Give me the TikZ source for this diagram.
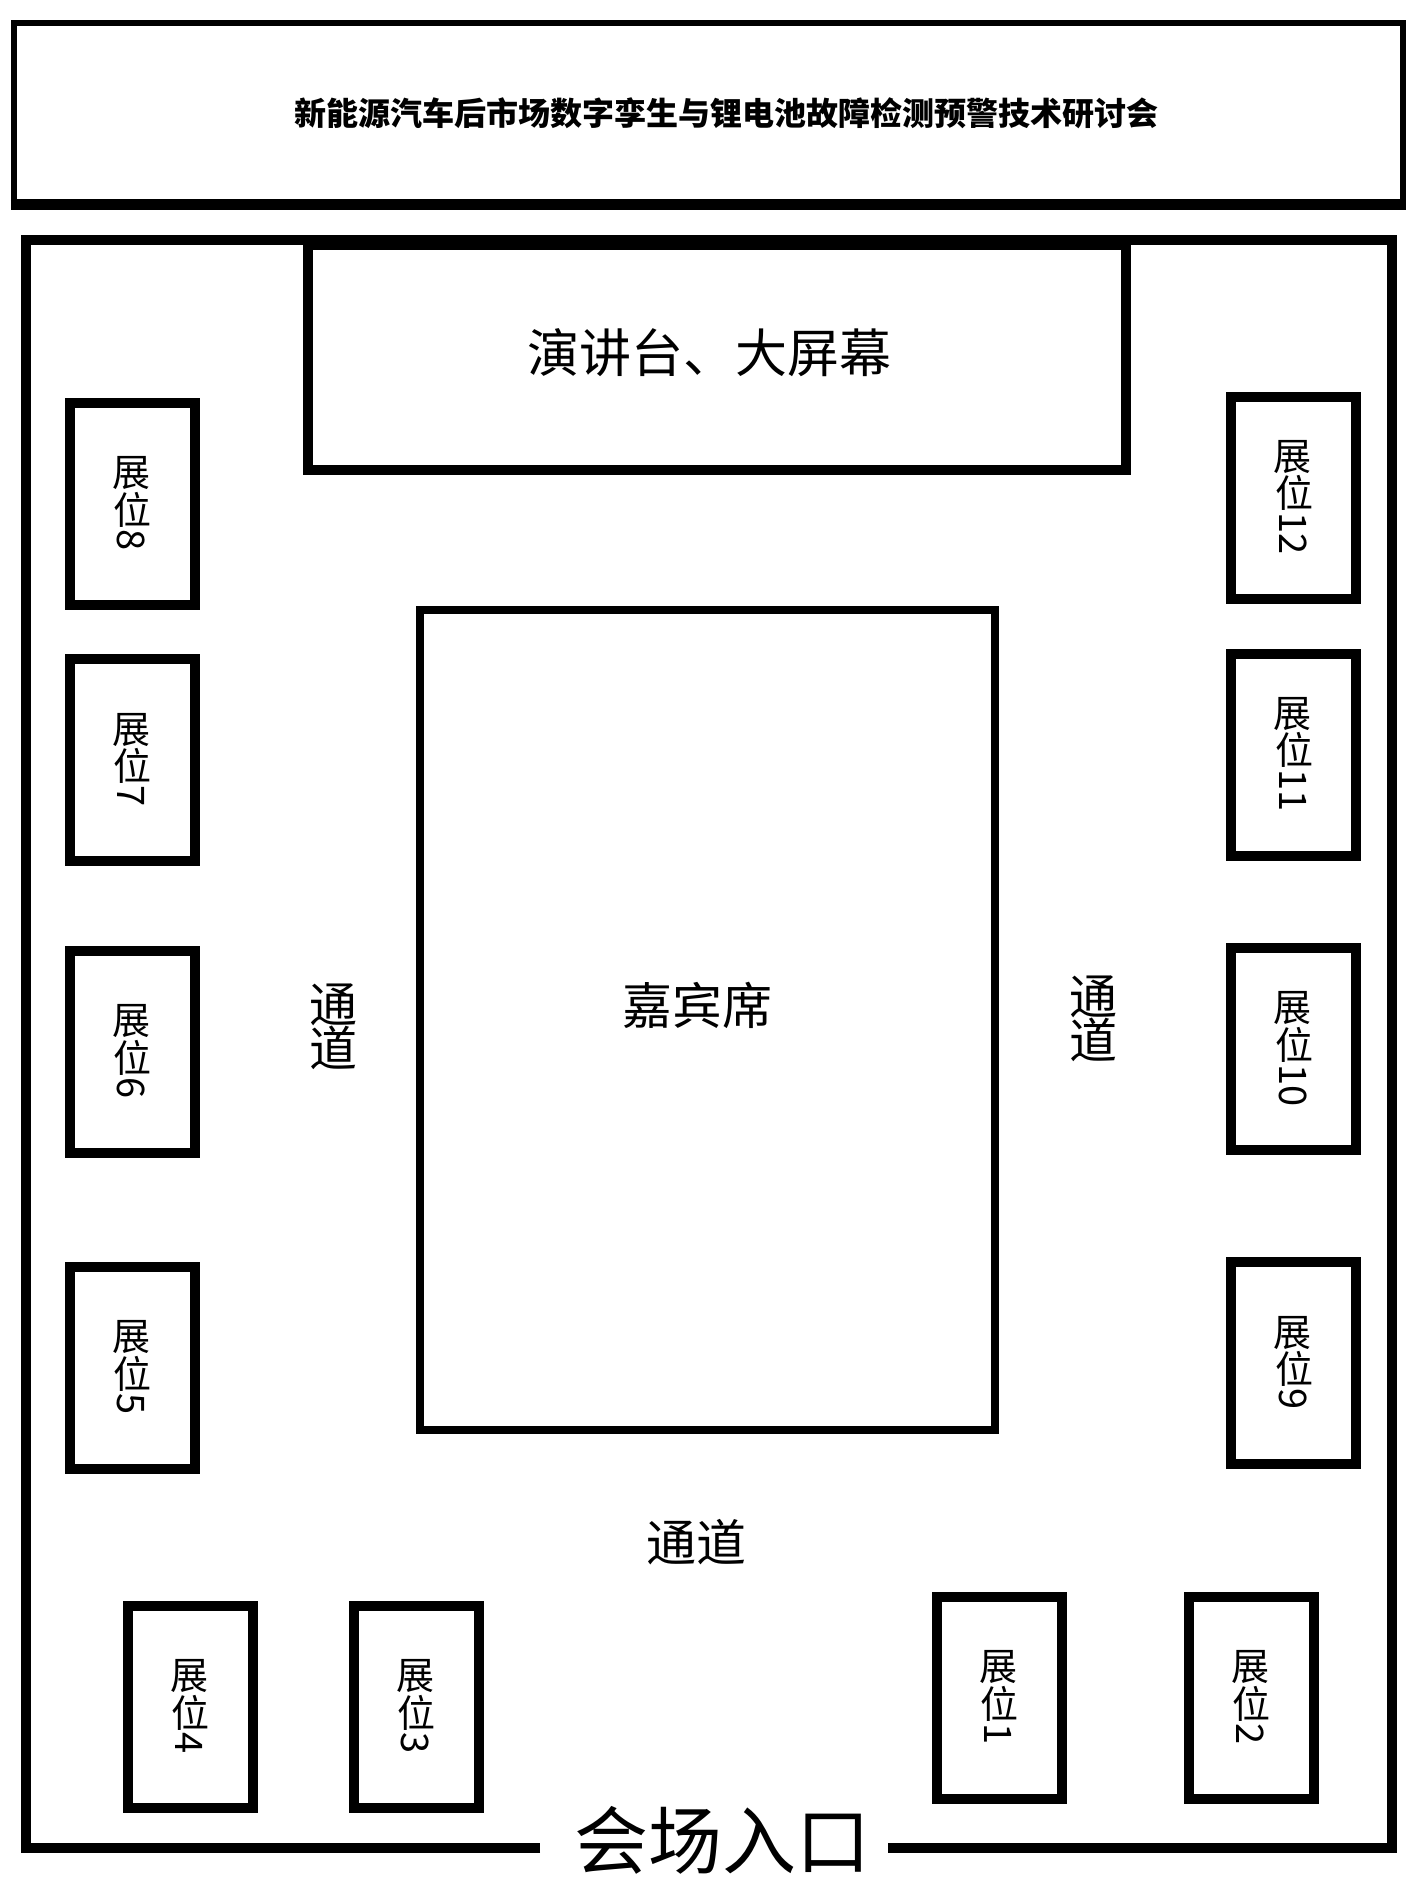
\documentclass[tikz,border=0pt]{standalone}
\usepackage{fontspec}
\setmainfont{Noto Sans CJK SC}
\usepackage{graphicx}
\newcommand{\upch}[1]{\rotatebox[origin=c]{90}{#1}\kern1pt}
\tikzset{
  wall/.style={line width=5pt, line cap=butt, line join=miter},
  booth/.style={draw, line width=5pt, rotate=-90, minimum width=101pt, minimum height=62.5pt,
    inner sep=0pt, font=\fontsize{19}{19}\selectfont},
  lbl/.style={inner sep=0pt, font=\fontsize{25}{25}\selectfont},
  vlbl/.style={inner sep=0pt, align=center, font=\fontsize{24}{22}\selectfont}
}
\begin{document}
\begin{tikzpicture}[x=0.5pt, y=-0.5pt]
\useasboundingbox[fill=white] (0,0) rectangle (1417,1890);
% title box
\node[draw, line width=3pt, minimum width=694.5pt, minimum height=89.5pt, inner sep=0pt] (titlebox) at (708.25,112.5) {};
\draw[line width=5pt] (titlebox.south west) -- (titlebox.south east);
\node[inner sep=0pt, font=\fontsize{16}{16}\selectfont\bfseries] (title) at (726,113) {新能源汽车后市场数字孪生与锂电池故障检测预警技术研讨会};
% hall walls
\coordinate (gl) at (540,1847.5);
\coordinate (gr) at (888,1847.5);
\draw[wall] (gl) -- (26,1847.5) -- (26,240) -- (1391.5,240) -- (1391.5,1847.5) -- (gr);
% stage
\node[draw, line width=5pt, minimum width=409pt, minimum height=112.5pt, inner sep=0pt] (stage) at (717,357.5) {};
\node[lbl, font=\fontsize{26}{26}\selectfont] (stagetxt) at (709,353) {演讲台、大屏幕};
% guest seats
\node[draw, line width=4pt, minimum width=287.5pt, minimum height=410pt, inner sep=0pt] (guest) at (707.5,1020) {};
\node[lbl] (guesttxt) at (697,1005) {嘉宾席};
% aisles
\node[vlbl] (aisleL) at (333,1027) {通\\道};
\node[vlbl] (aisleR) at (1093,1019) {通\\道};
\node[lbl] (aisleB) at (696,1542) {通道};
% entrance
\node[inner sep=0pt, font=\fontsize{37}{37}\selectfont] (entrance) at (722,1840) {会场入口};
% booths left
\node[booth] (b8) at (132,503.5) {\upch{展}\upch{位}8};
\node[booth] (b7) at (132,760) {\upch{展}\upch{位}7};
\node[booth] (b6) at (132,1051.5) {\upch{展}\upch{位}6};
\node[booth] (b5) at (132,1367.5) {\upch{展}\upch{位}5};
% booths right
\node[booth] (b12) at (1293.5,497.5) {\upch{展}\upch{位}12};
\node[booth] (b11) at (1293.5,754.5) {\upch{展}\upch{位}11};
\node[booth] (b10) at (1293.5,1049) {\upch{展}\upch{位}10};
\node[booth] (b9) at (1293.5,1363) {\upch{展}\upch{位}9};
% booths bottom
\node[booth] (b4) at (190,1706.5) {\upch{展}\upch{位}4};
\node[booth] (b3) at (416,1706.5) {\upch{展}\upch{位}3};
\node[booth] (b1) at (999,1697.5) {\upch{展}\upch{位}1};
\node[booth] (b2) at (1251,1697.5) {\upch{展}\upch{位}2};
\end{tikzpicture}
\end{document}
